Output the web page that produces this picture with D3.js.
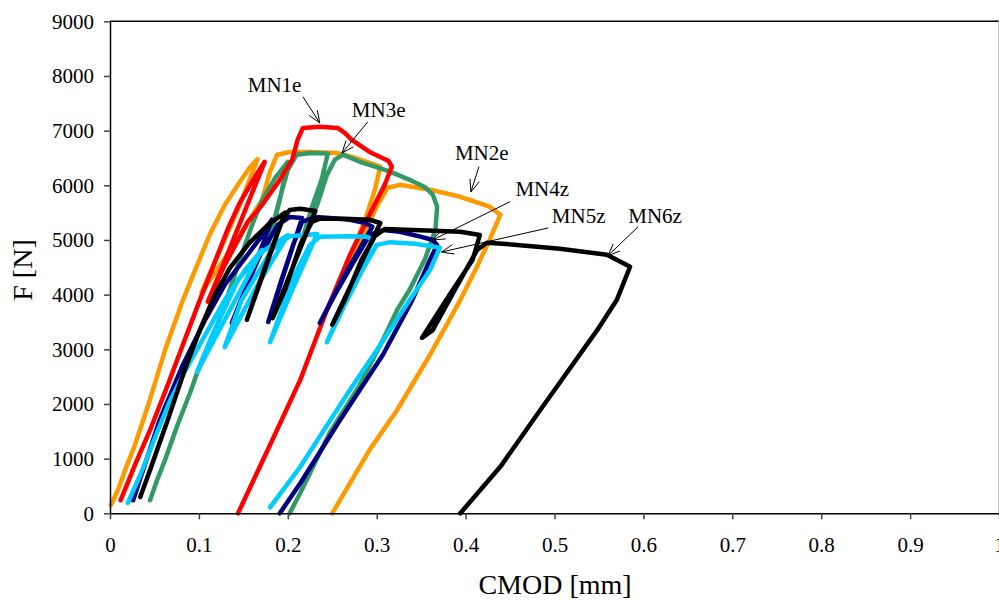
<!DOCTYPE html>
<html lang="en">
<head>
<meta charset="utf-8">
<title>F - CMOD</title>
<script src="https://d3js.org/d3.v7.min.js"></script>
<style>
  body { margin: 0; background: #fff; }
  text { font-family: "Liberation Serif", "Times New Roman", serif; }
</style>
</head>
<body>
<script>

// axis ticks
var cmodTicks = [0, 0.1, 0.2, 0.3, 0.4, 0.5, 0.6, 0.7, 0.8, 0.9, 1];
var forceTicks = [0, 1000, 2000, 3000, 4000, 5000, 6000, 7000, 8000, 9000];

// MN1e (red)
var mn1eCmod = [0.012,0.028,0.045,0.065,0.084,0.101,0.118,0.133,0.146,0.161,0.174,
  0.143,0.126,0.110, 0.129,0.155,0.171,0.191,0.205,0.211,0.217,
  0.236,0.256,0.264,0.272,0.292,0.313,0.317,
  0.309,0.292,0.270,0.244,0.214,0.180,0.144];
var mn1eF = [240,880,1520,2350,3170,3900,4600,5220,5680,6100,6430,
  5180,4490,3870, 4540,5330,5640,6100,6470,6830,7050,
  7070,7050,6960,6830,6610,6450,6340,
  6010,5460,4730,3720,2440,1250,0];

// MN2e (orange)
var mn2eCmod = [0.001,0.009,0.017,0.028,0.043,0.062,0.082,0.098,0.112,0.129,0.146,0.157,0.166,
  0.146,0.124,0.103, 0.124,0.146,0.171,0.180,0.188,
  0.202,0.225,0.255,0.276,0.292,0.304,
  0.298,0.287,0.272,0.261, 0.270,0.287,0.301,0.312,
  0.326,0.360,0.394,0.427,0.439,
  0.427,0.411,0.394,0.360,0.323,0.292,0.270,0.250];
var mn2eF = [150,430,790,1250,1980,2990,3900,4540,5090,5640,6060,6320,6480,
  5640,4820,4040, 4540,5090,5730,6250,6560,
  6610,6610,6590,6500,6410,6340,
  5920,5370,4780,4320, 4600,5180,5640,5950,
  6010,5920,5790,5610,5460,
  5000,4450,3900,2900,1890,1160,550,0];

// MN3e (green)
var mn3eCmod = [0.045,0.053,0.062,0.076,0.090,0.098,0.112,0.129,0.148,0.160,0.171,0.186,0.200,
  0.191,0.178, 0.189,0.200,0.210,
  0.225,0.245, 0.238,0.228,0.211, 0.220,0.233,0.244,0.253,0.262,
  0.281,0.298,0.315,0.337,0.354,0.363,0.368,
  0.366,0.354,0.337,0.323,0.307,0.281,0.247,0.214,0.202];
var mn3eF = [240,610,980,1620,2200,2570,3080,3810,4730,5280,5730,6140,6430,
  5730,4910, 5640,6280,6560,
  6590,6580, 6100,5640,4730, 5150,5640,6190,6470,6560,
  6430,6340,6250,6100,5970,5830,5610,
  5180,4640,4090,3720,3170,2350,1470,370,0];

// MN4z (navy)
var mn4zCmod = [0.026,0.039,0.056,0.081,0.107,0.129,0.152,0.169,0.182,
  0.160,0.137, 0.152,0.169,0.189,0.202,0.216,
  0.197,0.178, 0.191,0.206,0.216,0.231,0.247,0.270,0.287,0.295,
  0.264,0.236, 0.253,0.272,0.292,0.307,0.326,0.349,0.363,0.368,
  0.360,0.340,0.307,0.259,0.214,0.191];
var mn4zF = [240,880,1710,2680,3540,4180,4670,5040,5370,
  4400,3480, 4090,4730,5280,5420,5400,
  4450,3500, 4180,4910,5330,5420,5400,5370,5310,5240,
  4360,3480, 4000,4540,5090,5180,5150,5060,5000,4910,
  4640,3900,2900,1710,550,0];

// MN5z (cyan)
var mn5zCmod = [0.020,0.034,0.051,0.067,0.084,0.107,0.129,0.152,0.171,
  0.135,0.098, 0.115,0.144,0.171,0.200,
  0.163,0.129, 0.148,0.182,0.202,0.233,
  0.205,0.180, 0.206,0.225,0.236,0.270,0.289,0.296,
  0.270,0.244, 0.264,0.283,0.300,0.315,0.343,0.371,
  0.360,0.337,0.304,0.270,0.214,0.180];
var mn5zF = [190,700,1400,2040,2590,3260,3900,4450,4820,
  3720,2590, 3260,4270,4780,5090,
  4090,3040, 3900,4820,5070,5110,
  4090,3130, 4310,4910,5060,5070,5060,5000,
  4090,3130, 3810,4420,4910,4960,4930,4860,
  4450,3900,3080,2260,850,110];

// MN6z (black)
var mn6zCmod = [0.034,0.045,0.065,0.084,0.101,0.118,0.135,0.157,0.178,0.197,
  0.174,0.154, 0.166,0.182,0.193,0.202,0.214,0.231,
  0.208,0.183, 0.197,0.214,0.227,0.236,0.264,0.292,0.304,
  0.278,0.250, 0.264,0.283,0.298,0.309,0.349,0.394,0.416,
  0.408,0.382,0.351, 0.363,0.388,0.413,0.424,0.458,0.506,0.559,0.585,
  0.570,0.548,0.484,0.439,0.394];
var mn6zF = [300,790,1710,2620,3350,4000,4490,4950,5280,5500,
  4490,3540, 4090,4820,5330,5550,5570,5530,
  4600,3570, 4090,4910,5330,5390,5390,5370,5310,
  4420,3450, 3900,4640,5070,5200,5180,5150,5090,
  4640,4000,3210, 3350,4090,4820,4950,4910,4840,4730,4510,
  3900,3350,1890,850,0];

// annotations: label, text anchor, arrow start, arrow tip (CMOD mm, F N)
var labelNames = ["MN1e", "MN3e", "MN2e", "MN4z", "MN5z", "MN6z"];
var labelCmod = [0.155, 0.272, 0.388, 0.456, 0.497, 0.583];
var labelF = [7710, 7250, 6470, 5810, 5310, 5310];
var arrowFromCmod = [0.217, 0.290, 0.415, 0.450, 0.493, 0.594];
var arrowFromF = [7620, 7160, 6340, 5700, 5220, 5240];
var arrowToCmod = [0.236, 0.261, 0.406, 0.363, 0.373, 0.560];
var arrowToF = [7140, 6590, 5880, 5000, 4780, 4710];

var w = 999, h = 600;
var plotLeft = 110, plotRight = 999, plotTop = 21.3, plotBottom = 513.3;

var svg = d3.select("body").append("svg")
  .attr("width", w).attr("height", h);

var x = d3.scaleLinear().domain([0, 1]).range([plotLeft, plotRight]);
var y = d3.scaleLinear().domain([0, 9000]).range([plotBottom, plotTop]);

// frame: top line and faint right edge
svg.append("line").attr("x1", plotLeft).attr("x2", plotRight).attr("y1", plotTop).attr("y2", plotTop)
  .attr("stroke", "#000").attr("stroke-width", 1.5);
svg.append("line").attr("x1", plotRight - 0.5).attr("x2", plotRight - 0.5).attr("y1", plotTop).attr("y2", plotBottom)
  .attr("stroke", "#c8c8c8").attr("stroke-width", 1);

// curves
var specimens = [
  {cmod: mn2eCmod, f: mn2eF, color: "#ff9900"},
  {cmod: mn3eCmod, f: mn3eF, color: "#339966"},
  {cmod: mn1eCmod, f: mn1eF, color: "#ff0000"},
  {cmod: mn4zCmod, f: mn4zF, color: "#000080"},
  {cmod: mn5zCmod, f: mn5zF, color: "#00ccff"},
  {cmod: mn6zCmod, f: mn6zF, color: "#000000"}
];

var line = d3.line()
  .x(function(d) { return x(d[0]); })
  .y(function(d) { return y(d[1]); });

specimens.forEach(function(s) {
  var pts = s.cmod.map(function(c, i) { return [c, s.f[i]]; });
  svg.append("path")
    .datum(pts)
    .attr("d", line)
    .attr("fill", "none")
    .attr("stroke", s.color)
    .attr("stroke-width", 4.5)
    .attr("stroke-linejoin", "round")
    .attr("stroke-linecap", "round");
});

// axes
var xAxis = svg.append("g")
  .attr("transform", "translate(0," + plotBottom + ")")
  .call(d3.axisBottom(x).tickValues(cmodTicks).tickFormat(d3.format("~g"))
    .tickSize(6).tickSizeOuter(0).tickPadding(18));
var yAxis = svg.append("g")
  .attr("transform", "translate(" + plotLeft + ",0)")
  .call(d3.axisLeft(y).tickValues(forceTicks).tickFormat(d3.format("d"))
    .tickSize(6).tickSizeOuter(0).tickPadding(10));

[xAxis, yAxis].forEach(function(g) {
  g.select(".domain").attr("stroke", "#000").attr("stroke-width", 1.5);
  g.selectAll(".tick line").attr("stroke", "#444").attr("stroke-width", 1.5);
  g.selectAll(".tick text").attr("fill", "#000")
    .style("font-family", "'Liberation Serif', serif")
    .style("font-size", "21px");
});

// axis titles
svg.append("text")
  .attr("x", 555).attr("y", 594)
  .attr("text-anchor", "middle")
  .style("font-size", "28px")
  .text("CMOD [mm]");
svg.append("text")
  .attr("transform", "translate(32,270) rotate(-90)")
  .attr("text-anchor", "middle")
  .style("font-size", "28px")
  .text("F [N]");

// labels with arrows
labelNames.forEach(function(name, i) {
  svg.append("text")
    .attr("x", x(labelCmod[i])).attr("y", y(labelF[i]))
    .style("font-size", "21px")
    .text(name);

  var x0 = x(arrowFromCmod[i]), y0 = y(arrowFromF[i]);
  var x1 = x(arrowToCmod[i]), y1 = y(arrowToF[i]);
  var ang = Math.atan2(y1 - y0, x1 - x0);
  var len = 13, spread = 0.38;
  var ax = x1 - len * Math.cos(ang - spread), ay = y1 - len * Math.sin(ang - spread);
  var bx = x1 - len * Math.cos(ang + spread), by = y1 - len * Math.sin(ang + spread);

  svg.append("line")
    .attr("x1", x0).attr("y1", y0).attr("x2", x1).attr("y2", y1)
    .attr("stroke", "#000").attr("stroke-width", 1);
  svg.append("path")
    .attr("d", "M" + ax + "," + ay + "L" + x1 + "," + y1 + "L" + bx + "," + by)
    .attr("fill", "none").attr("stroke", "#000").attr("stroke-width", 1);
});

</script>
</body>
</html>
